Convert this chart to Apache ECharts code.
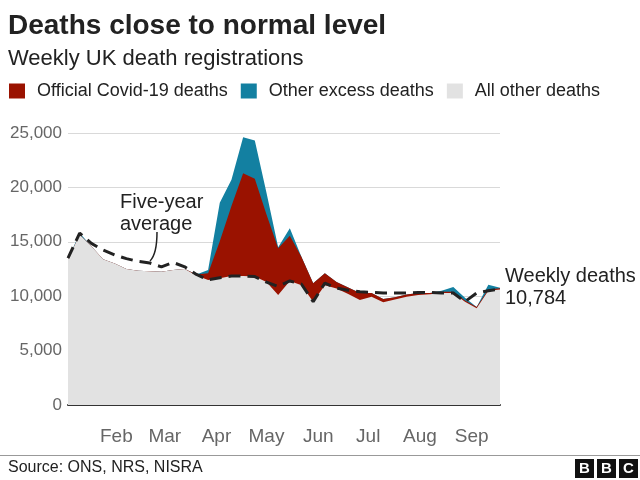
<!DOCTYPE html>
<html><head><meta charset="utf-8">
<script src="https://cdn.jsdelivr.net/npm/echarts@6/dist/echarts.min.js"></script>
<style>html,body{margin:0;padding:0;background:#fff}#c{width:640px;height:480px}</style>
</head><body><div id="c"></div>
<script>
const weekEnding = ['2020-01-03','2020-01-10','2020-01-17','2020-01-24','2020-01-31',
  '2020-02-07','2020-02-14','2020-02-21','2020-02-28',
  '2020-03-06','2020-03-13','2020-03-20','2020-03-27',
  '2020-04-03','2020-04-10','2020-04-17','2020-04-24',
  '2020-05-01','2020-05-08','2020-05-15','2020-05-22','2020-05-29',
  '2020-06-05','2020-06-12','2020-06-19','2020-06-26',
  '2020-07-03','2020-07-10','2020-07-17','2020-07-24','2020-07-31',
  '2020-08-07','2020-08-14','2020-08-21','2020-08-28',
  '2020-09-04','2020-09-11','2020-09-18'];
const allOtherDeaths = [13400,15650,14600,13400,13000,12500,12350,12300,12250,12400,12500,11900,11500,11650,11850,11850,11800,11300,10100,11400,11000,9500,11000,10700,10200,9650,9950,9450,9700,9950,10100,10180,10300,10300,9500,8900,10500,10614];
const covidDeaths = [0,0,0,0,0,0,0,0,0,0,0,100,600,3400,6450,9450,9000,6200,4300,4150,2600,1700,1100,600,600,650,350,300,200,200,200,120,100,100,100,100,120,120];
const otherExcessDeaths = [0,150,0,0,0,0,0,0,0,0,0,0,300,3550,2400,3300,3500,2000,100,700,0,0,0,0,0,0,0,0,0,0,0,0,100,450,250,0,430,50];
const fiveYearAverage = [13500,15800,14850,14250,13800,13450,13200,13050,12700,13100,12700,12000,11500,11700,11850,11850,11800,11300,10900,11400,11100,9500,11200,10750,10550,10400,10350,10300,10300,10300,10350,10350,10300,10300,9500,10300,10500,10650];
const monthStarts = ['2020-02-01','2020-03-01','2020-04-01','2020-05-01','2020-06-01','2020-07-01','2020-08-01','2020-09-01'];
const monthLabels = ['Feb','Mar','Apr','May','Jun','Jul','Aug','Sep'];
const seriesNames = ['Official Covid-19 deaths','Other excess deaths','All other deaths'];

const FONT = '"Liberation Sans", Arial, Helvetica, sans-serif';
const DAY = 86400000;
const utc = s => { const p = s.split('-').map(Number); return Date.UTC(p[0], p[1]-1, p[2]); };
const t0 = utc(weekEnding[0]);
const dayOf = s => Math.round((utc(s) - t0) / DAY);
const monthDays = monthStarts.map(dayOf);
const last = weekEnding.length - 1;

// layers are drawn as overlapping areas from zero: top of each layer = running sum
const covidTop = allOtherDeaths.map((v, i) => v + covidDeaths[i]);
const totalDeaths = covidTop.map((v, i) => v + otherExcessDeaths[i]);
const pair = arr => weekEnding.map((d, i) => [dayOf(d), arr[i]]);

const chart = echarts.init(document.getElementById('c'), null, {renderer: 'canvas'});
chart.setOption({
  animation: false,
  textStyle: {fontFamily: FONT},
  title: [
    {text: 'Deaths close to normal level', left: 8, top: 12, padding: 0,
     textStyle: {fontSize: 28, fontWeight: 'bold', color: '#222', fontFamily: FONT}},
    {text: 'Weekly UK death registrations', left: 8, top: 48, padding: 0,
     textStyle: {fontSize: 22, fontWeight: 'normal', color: '#222', fontFamily: FONT}}
  ],
  legend: {
    data: seriesNames, left: 9, top: 82, padding: 0, icon: 'rect',
    itemWidth: 16, itemHeight: 15, itemGap: 13, selectedMode: false,
    textStyle: {fontSize: 18, color: '#222', fontFamily: FONT, padding: [0, 0, 0, 7]}
  },
  grid: {left: 68, right: 140, top: 133, bottom: 75, containLabel: false},
  xAxis: {
    type: 'value', min: 0, max: dayOf(weekEnding[last]),
    axisLine: {show: true, onZero: true, lineStyle: {color: '#333', width: 2}},
    axisTick: {show: false},
    splitLine: {show: false},
    axisLabel: {
      customValues: monthDays,
      formatter: v => { const i = monthDays.indexOf(v); return i >= 0 ? monthLabels[i] : ''; },
      fontSize: 19, color: '#666', margin: 22, fontFamily: FONT
    }
  },
  yAxis: {
    type: 'value', min: 0, max: 25000, interval: 5000,
    axisLine: {show: false}, axisTick: {show: false},
    axisLabel: {fontSize: 17, color: '#666', margin: 6, fontFamily: FONT},
    splitLine: {lineStyle: {color: '#d9d9d9', width: 1}}
  },
  series: [
    {name: 'Other excess deaths', type: 'line', data: pair(totalDeaths),
     symbol: 'none', color: '#1380a1', lineStyle: {width: 0}, areaStyle: {color: '#1380a1', opacity: 1}, z: 2,
     endLabel: {
       show: true, distance: 5,
       formatter: () => 'Weekly deaths\n' + totalDeaths[last].toLocaleString('en-US'),
       fontSize: 20, lineHeight: 22, color: '#222', fontFamily: FONT
     }},
    {name: 'Official Covid-19 deaths', type: 'line', data: pair(covidTop),
     symbol: 'none', color: '#9a1200', lineStyle: {width: 0}, areaStyle: {color: '#9a1200', opacity: 1}, z: 3},
    {name: 'All other deaths', type: 'line', data: pair(allOtherDeaths),
     symbol: 'none', color: '#e2e2e2', lineStyle: {width: 0}, areaStyle: {color: '#e2e2e2', opacity: 1}, z: 4},
    {name: 'Five-year average', type: 'line', data: pair(fiveYearAverage),
     symbol: 'none', lineStyle: {color: '#222', width: 3, type: [12, 7]}, z: 5}
  ],
  graphic: [
    {type: 'text', x: 120, y: 191, z: 10,
     style: {text: 'Five-year\naverage', fontSize: 20, lineHeight: 22, fontFamily: FONT, fill: '#222'}},
    {type: 'bezierCurve', z: 10,
     shape: {x1: 157, y1: 232, cpx1: 157, cpy1: 254, x2: 150, y2: 261},
     style: {stroke: '#222', lineWidth: 1.5, fill: null}},
    {type: 'line', shape: {x1: 0, y1: 455.5, x2: 640, y2: 455.5}, style: {stroke: '#999', lineWidth: 1}},
    {type: 'text', x: 8, y: 468,
     style: {text: 'Source: ONS, NRS, NISRA', fontSize: 16, fontFamily: FONT, fill: '#222', verticalAlign: 'middle'}},
    {type: 'group', x: 575, y: 459, children: [
      {type: 'rect', shape: {x: 0, y: 0, width: 19, height: 19}, style: {fill: '#111'}},
      {type: 'rect', shape: {x: 22, y: 0, width: 19, height: 19}, style: {fill: '#111'}},
      {type: 'rect', shape: {x: 44, y: 0, width: 19, height: 19}, style: {fill: '#111'}},
      {type: 'text', x: 9.5, y: 10, style: {text: 'B', fontSize: 15, fontWeight: 'bold', fontFamily: FONT, fill: '#fff', align: 'center', verticalAlign: 'middle'}},
      {type: 'text', x: 31.5, y: 10, style: {text: 'B', fontSize: 15, fontWeight: 'bold', fontFamily: FONT, fill: '#fff', align: 'center', verticalAlign: 'middle'}},
      {type: 'text', x: 53.5, y: 10, style: {text: 'C', fontSize: 15, fontWeight: 'bold', fontFamily: FONT, fill: '#fff', align: 'center', verticalAlign: 'middle'}}
    ]}
  ]
});
</script></body></html>
